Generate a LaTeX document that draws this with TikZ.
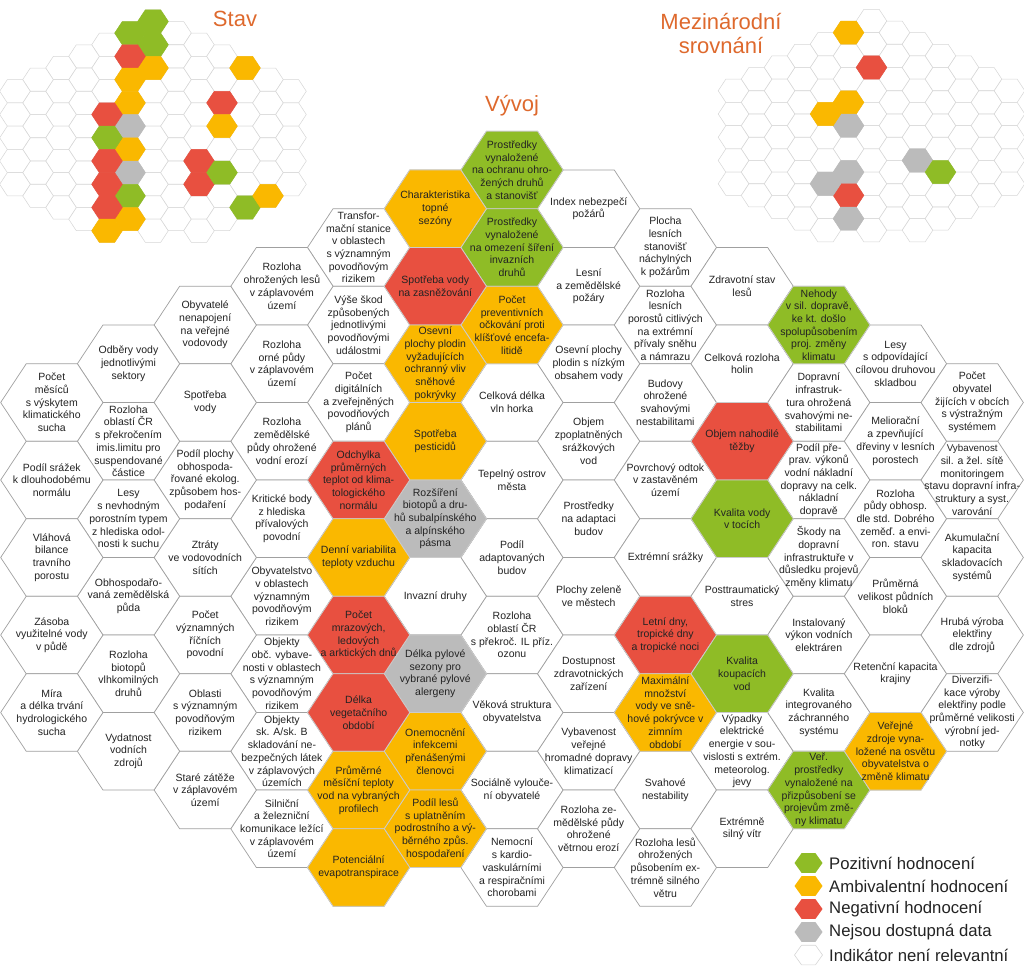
\documentclass[tikz,border=0pt]{standalone}
\usepackage{fontspec}
\setmainfont{Liberation Sans}
\definecolor{cG}{RGB}{143,188,38}
\definecolor{cO}{RGB}{250,184,0}
\definecolor{cR}{RGB}{232,80,64}
\definecolor{cS}{RGB}{187,187,187}
\definecolor{hexline}{RGB}{160,160,160}
\definecolor{minline}{RGB}{214,214,214}
\definecolor{ttl}{RGB}{222,105,45}
\definecolor{txt}{RGB}{35,35,35}
\pgfdeclarelayer{bg}\pgfdeclarelayer{fg}
\pgfsetlayers{bg,main,fg}
\tikzset{
  bghex/.style={fill=white,draw=hexline,line width=0.7pt},
  hexW/.style={},
  hexG/.style={fill=cG,draw=hexline!55!white,line width=0.8pt},
  hexO/.style={fill=cO,draw=hexline!55!white,line width=0.8pt},
  hexR/.style={fill=cR,draw=hexline!55!white,line width=0.8pt},
  hexS/.style={fill=cS,draw=hexline!55!white,line width=0.8pt},
  legG/.style={fill=cG},
  legO/.style={fill=cO},
  legR/.style={fill=cR},
  legS/.style={fill=cS},
  mbghex/.style={fill=white,draw=minline,line width=0.5pt},
  mhexW/.style={},
  mhexG/.style={fill=cG,draw=cG,line width=0.5pt},
  mhexO/.style={fill=cO,draw=cO,line width=0.5pt},
  mhexR/.style={fill=cR,draw=cR,line width=0.5pt},
  mhexS/.style={fill=cS,draw=cS,line width=0.5pt},
  legW/.style={fill=white,draw=minline,line width=0.6pt},
  lbl/.style={align=center,inner sep=0pt,text=txt,font=\fontsize{10.5}{12.7}\selectfont},
  ttlst/.style={text=ttl,inner sep=0pt,align=center,font=\fontsize{22}{24}\selectfont},
  legtxt/.style={text=txt,inner sep=0pt,anchor=west,font=\fontsize{16.7}{20}\selectfont},
}
\newcommand\hexat[5]{\path[#1] (#2,#3) +(-#4,0) -- +(-#4/2,-#5) -- +(#4/2,-#5) -- +(#4,0) -- +(#4/2,#5) -- +(-#4/2,#5) -- cycle;}
\newcommand\Ind[6]{%
  \pgfmathsetmacro\Hx{512+76.7*(#1)}%
  \pgfmathsetmacro\Hy{170+77.5*(#2)+38.75*mod(abs(#1),2)}%
  \pgfmathsetmacro\Sx{153+23*(#1)}%
  \pgfmathsetmacro\Sy{21.5+0.3*(\Hy-170)}%
  \pgfmathsetmacro\Zx{871.5+23*(#1)}%
  \pgfmathsetmacro\Zy{21+0.3*(\Hy-170)}%
  \begin{pgfonlayer}{bg}
    \hexat{bghex}{\Hx}{\Hy}{51.13}{38.75}
    \hexat{mbghex}{\Sx}{\Sy}{15.33}{11.62}
    \hexat{mbghex}{\Zx}{\Zy}{15.33}{11.62}
  \end{pgfonlayer}
  \hexat{hex#3}{\Hx}{\Hy}{51.13}{38.75}
  \hexat{mhex#4}{\Sx}{\Sy}{15.33}{11.62}
  \hexat{mhex#5}{\Zx}{\Zy}{15.33}{11.62}
  \begin{pgfonlayer}{fg}
    \node[lbl] (m#1n#2) at (\Hx,\Hy) {#6};
  \end{pgfonlayer}
}
\begin{document}
\begin{tikzpicture}[x=1pt,y=-1pt]
\useasboundingbox (0,0) rectangle (1024,968);
% column 0
\Ind{0}{0}{G}{G}{W}{Prostředky\\vynaložené\\na ochranu ohro-\\žených druhů\\a stanovišť}
\Ind{0}{1}{G}{G}{W}{Prostředky\\vynaložené\\na omezení šíření\\invazních\\druhů}
\Ind{0}{2}{O}{O}{R}{Počet\\preventivních\\očkování proti\\klíšťové encefa-\\litidě}
\Ind{0}{3}{W}{W}{W}{Celková délka\\vln horka}
\Ind{0}{4}{W}{W}{W}{Tepelný ostrov\\města}
\Ind{0}{5}{W}{W}{W}{Podíl\\adaptovaných\\budov}
\Ind{0}{6}{W}{W}{W}{Rozloha\\oblastí ČR\\s překroč. IL příz.\\ozonu}
\Ind{0}{7}{W}{W}{W}{Věková struktura\\obyvatelstva}
\Ind{0}{8}{W}{W}{W}{Sociálně vylouče-\\ní obyvatelé}
\Ind{0}{9}{W}{W}{W}{Nemocní\\s kardio-\\vaskulárními\\a respiračními\\chorobami}
% column -1
\Ind{-1}{0}{O}{G}{O}{Charakteristika\\topné\\sezóny}
\Ind{-1}{1}{R}{R}{W}{Spotřeba vody\\na zasněžování}
\Ind{-1}{2}{O}{O}{W}{Osevní\\plochy plodin\\vyžadujících\\ochranný vliv\\sněhové\\pokrývky}
\Ind{-1}{3}{O}{O}{O}{Spotřeba\\pesticidů}
\Ind{-1}{4}{S}{S}{S}{Rozšíření\\biotopů a dru-\\hů subalpínského\\a alpínského\\pásma}
\Ind{-1}{5}{W}{O}{W}{Invazní druhy}
\Ind{-1}{6}{S}{S}{S}{Délka pylové\\sezony pro\\vybrané pylové\\alergeny}
\Ind{-1}{7}{O}{G}{R}{Onemocnění\\infekcemi\\přenášenými\\členovci}
\Ind{-1}{8}{O}{O}{S}{Podíl lesů\\s uplatněním\\podrostního a vý-\\běrného způs.\\hospodaření}
% column -2
\Ind{-2}{1}{W}{W}{W}{Transfor-\\mační stanice\\v oblastech\\s významným\\povodňovým\\rizikem}
\Ind{-2}{2}{W}{W}{W}{Výše škod\\způsobených\\jednotlivými\\povodňovými\\událostmi}
\Ind{-2}{3}{W}{W}{W}{Počet\\digitálních\\a zveřejněných\\povodňových\\plánů}
\Ind{-2}{4}{R}{R}{O}{Odchylka\\průměrných\\teplot od klima-\\tologického\\normálu}
\Ind{-2}{5}{O}{G}{W}{Denní variabilita\\teploty vzduchu}
\Ind{-2}{6}{R}{R}{W}{Počet\\mrazových,\\ledových\\a arktických dnů}
\Ind{-2}{7}{R}{R}{S}{Délka\\vegetačního\\období}
\Ind{-2}{8}{O}{R}{W}{Průměrné\\měsíční teploty\\vod na vybraných\\profilech}
\Ind{-2}{9}{O}{O}{W}{Potenciální\\evapotranspirace}
% column -3
\Ind{-3}{1}{W}{W}{W}{Rozloha\\ohrožených lesů\\v záplavovém\\území}
\Ind{-3}{2}{W}{W}{W}{Rozloha\\orné půdy\\v záplavovém\\území}
\Ind{-3}{3}{W}{W}{W}{Rozloha\\zemědělské\\půdy ohrožené\\vodní erozí}
\Ind{-3}{4}{W}{W}{W}{Kritické body\\z hlediska\\přívalových\\povodní}
\Ind{-3}{5}{W}{W}{W}{Obyvatelstvo\\v oblastech\\významným\\povodňovým\\rizikem}
\Ind{-3}{6}{W}{W}{W}{Objekty\\obč. vybave-\\nosti v oblastech\\s významným\\povodňovým\\rizikem}
\Ind{-3}{7}{W}{W}{W}{Objekty\\sk. A/sk. B\\skladování ne-\\bezpečných látek\\v záplavových\\územích}
\Ind{-3}{8}{W}{W}{W}{Silniční\\a železniční\\komunikace ležící\\v záplavovém\\území}
% column -4
\Ind{-4}{2}{W}{W}{W}{Obyvatelé\\nenapojení\\na veřejné\\vodovody}
\Ind{-4}{3}{W}{W}{W}{Spotřeba\\vody}
\Ind{-4}{4}{W}{W}{W}{Podíl plochy\\obhospoda-\\řované ekolog.\\způsobem hos-\\podaření}
\Ind{-4}{5}{W}{W}{W}{Ztráty\\ve vodovodních\\sítích}
\Ind{-4}{6}{W}{W}{W}{Počet\\významných\\říčních\\povodní}
\Ind{-4}{7}{W}{W}{W}{Oblasti\\s významným\\povodňovým\\rizikem}
\Ind{-4}{8}{W}{W}{W}{Staré zátěže\\v záplavovém\\území}
% column -5
\Ind{-5}{2}{W}{W}{W}{Odběry vody\\jednotlivými\\sektory}
\Ind{-5}{3}{W}{W}{W}{Rozloha\\oblastí ČR\\s překročením\\imis.limitu pro\\suspendované\\částice}
\Ind{-5}{4}{W}{W}{W}{Lesy\\s nevhodným\\porostním typem\\z hlediska odol-\\nosti k suchu}
\Ind{-5}{5}{W}{W}{W}{Obhospodařo-\\vaná zemědělská\\půda}
\Ind{-5}{6}{W}{W}{W}{Rozloha\\biotopů\\vlhkomilných\\druhů}
\Ind{-5}{7}{W}{W}{W}{Vydatnost\\vodních\\zdrojů}
% column -6
\Ind{-6}{3}{W}{W}{W}{Počet\\měsíců\\s výskytem\\klimatického\\sucha}
\Ind{-6}{4}{W}{W}{W}{Podíl srážek\\k dlouhodobému\\normálu}
\Ind{-6}{5}{W}{W}{W}{Vláhová\\bilance\\travního\\porostu}
\Ind{-6}{6}{W}{W}{W}{Zásoba\\využitelné vody\\v půdě}
\Ind{-6}{7}{W}{W}{W}{Míra\\a délka trvání\\hydrologického\\sucha}
% column 1
\Ind{1}{0}{W}{W}{W}{Index nebezpečí\\požárů}
\Ind{1}{1}{W}{W}{W}{Lesní\\a zemědělské\\požáry}
\Ind{1}{2}{W}{W}{W}{Osevní plochy\\plodin s nízkým\\obsahem vody}
\Ind{1}{3}{W}{W}{W}{Objem\\zpoplatněných\\srážkových\\vod}
\Ind{1}{4}{W}{W}{W}{Prostředky\\na adaptaci\\budov}
\Ind{1}{5}{W}{W}{W}{Plochy zeleně\\ve městech}
\Ind{1}{6}{W}{W}{W}{Dostupnost\\zdravotnických\\zařízení}
\Ind{1}{7}{W}{W}{W}{Vybavenost\\veřejné\\hromadné dopravy\\klimatizací}
\Ind{1}{8}{W}{W}{W}{Rozloha ze-\\mědělské půdy\\ohrožené\\větrnou erozí}
% column 2
\Ind{2}{1}{W}{W}{W}{Plocha\\lesních\\stanovišť\\náchylných\\k požárům}
\Ind{2}{2}{W}{W}{W}{Rozloha\\lesních\\porostů citlivých\\na extrémní\\přívaly sněhu\\a námrazu}
\Ind{2}{3}{W}{W}{W}{Budovy\\ohrožené\\svahovými\\nestabilitami}
\Ind{2}{4}{W}{W}{W}{Povrchový odtok\\v zastavěném\\území}
\Ind{2}{5}{W}{W}{W}{Extrémní srážky}
\Ind{2}{6}{R}{R}{S}{Letní dny,\\tropické dny\\a tropické noci}
\Ind{2}{7}{O}{R}{W}{Maximální\\množství\\vody ve sně-\\hové pokrývce v\\zimním\\období}
\Ind{2}{8}{W}{W}{W}{Svahové\\nestability}
\Ind{2}{9}{W}{W}{W}{Rozloha lesů\\ohrožených\\působením ex-\\trémně silného\\větru}
% column 3
\Ind{3}{1}{W}{W}{W}{Zdravotní stav\\lesů}
\Ind{3}{2}{W}{W}{W}{Celková rozloha\\holin}
\Ind{3}{3}{R}{R}{W}{Objem nahodilé\\těžby}
\Ind{3}{4}{G}{O}{W}{Kvalita vody\\v tocích}
\Ind{3}{5}{W}{W}{W}{Posttraumatický\\stres}
\Ind{3}{6}{G}{G}{G}{Kvalita\\koupacích\\vod}
\Ind{3}{7}{W}{W}{W}{Výpadky\\elektrické\\energie v sou-\\vislosti s extrém.\\meteorolog.\\jevy}
\Ind{3}{8}{W}{W}{W}{Extrémně\\silný vítr}
% column 4
\Ind{4}{2}{G}{O}{W}{Nehody\\v sil. dopravě,\\ke kt. došlo\\spolupůsobením\\proj. změny\\klimatu}
\Ind{4}{3}{W}{W}{W}{Dopravní\\infrastruk-\\tura ohrožená\\svahovými ne-\\stabilitami}
\Ind{4}{4}{W}{W}{W}{Podíl pře-\\prav. výkonů\\vodní nákladní\\dopravy na celk.\\nákladní\\dopravě}
\Ind{4}{5}{W}{W}{W}{Škody na\\dopravní\\infrastruktuře v\\důsledku projevů\\změny klimatu}
\Ind{4}{6}{W}{W}{W}{Instalovaný\\výkon vodních\\elektráren}
\Ind{4}{7}{W}{W}{W}{Kvalita\\integrovaného\\záchranného\\systému}
\Ind{4}{8}{G}{G}{W}{Veř.\\prostředky\\vynaložené na\\přizpůsobení se\\projevům změ-\\ny klimatu}
% column 5
\Ind{5}{2}{W}{W}{W}{Lesy\\s odpovídající\\cílovou druhovou\\skladbou}
\Ind{5}{3}{W}{W}{W}{Meliorační\\a zpevňující\\dřeviny v lesních\\porostech}
\Ind{5}{4}{W}{W}{W}{Rozloha\\půdy obhosp.\\dle std. Dobrého\\zeměď. a envi-\\ron. stavu}
\Ind{5}{5}{W}{W}{W}{Průměrná\\velikost půdních\\bloků}
\Ind{5}{6}{W}{W}{W}{Retenční kapacita\\krajiny}
\Ind{5}{7}{O}{O}{W}{Veřejné\\zdroje vyna-\\ložené na osvětu\\obyvatelstva o\\změně klimatu}
% column 6
\Ind{6}{3}{W}{W}{W}{Počet\\obyvatel\\žijících v obcích\\s výstražným\\systémem}
\Ind{6}{4}{W}{W}{W}{\fontsize{9.8}{12.4}\selectfont Vybavenost\\sil. a žel. sítě\\monitoringem\\stavu dopravní infra-\\struktury a syst.\\varování}
\Ind{6}{5}{W}{W}{W}{Akumulační\\kapacita\\skladovacích\\systémů}
\Ind{6}{6}{W}{W}{W}{Hrubá výroba\\elektřiny\\dle zdrojů}
\Ind{6}{7}{W}{W}{W}{Diverzifi-\\kace výroby\\elektřiny podle\\průměrné velikosti\\výrobní jed-\\notky}
% titles
\node[ttlst] (tStav) at (235,19) {Stav};
\node[ttlst] (tMez) at (721,34) {Mezinárodní\\srovnání};
\node[ttlst] (tVyv) at (512,106) {Vývoj};
% legend
\hexat{legG}{808.5}{863}{14}{9.8}
\hexat{legO}{808.5}{886}{14}{9.8}
\hexat{legR}{808.5}{909}{14}{9.8}
\hexat{legS}{808.5}{932}{14}{9.8}
\hexat{legW}{808.5}{955}{14}{9.8}
\node[legtxt] (l1) at (829,863) {Pozitivní hodnocení};
\node[legtxt] (l2) at (829,886) {Ambivalentní hodnocení};
\node[legtxt] (l3) at (829,909) {Negativní hodnocení};
\node[legtxt] (l4) at (829,932) {Nejsou dostupná data};
\node[legtxt] (l5) at (829,955) {Indikátor není relevantní};
\end{tikzpicture}
\end{document}
